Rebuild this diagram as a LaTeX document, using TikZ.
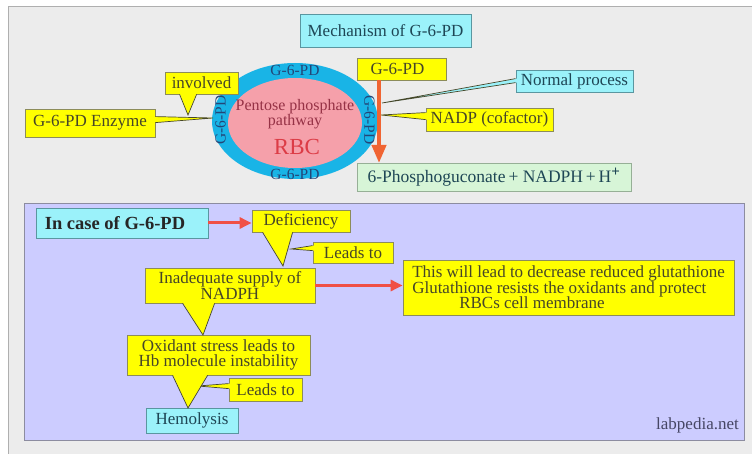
\documentclass[tikz,border=0pt]{standalone}
\usepackage{fontspec}
\setmainfont{Liberation Serif}
\usetikzlibrary{arrows.meta,calc}
\definecolor{bggray}{RGB}{236,236,236}
\definecolor{framegray}{RGB}{175,175,175}
\definecolor{lowfill}{RGB}{204,204,255}
\definecolor{lowline}{RGB}{140,140,160}
\definecolor{cyanfill}{RGB}{155,242,250}
\definecolor{cyanline}{RGB}{90,150,160}
\definecolor{yelfill}{RGB}{255,255,0}
\definecolor{yelline}{RGB}{140,140,90}
\definecolor{grnfill}{RGB}{215,245,215}
\definecolor{grnline}{RGB}{150,175,150}
\definecolor{ringblue}{RGB}{25,180,230}
\definecolor{cellpink}{RGB}{245,160,170}
\definecolor{ytext}{RGB}{70,70,40}
\definecolor{ctext}{RGB}{30,70,85}
\definecolor{ringtext}{RGB}{35,70,120}
\definecolor{pptext}{RGB}{150,50,70}
\definecolor{rbctext}{RGB}{220,60,70}
\definecolor{orangearr}{RGB}{240,100,50}
\definecolor{redarr}{RGB}{240,80,70}
\definecolor{wmark}{RGB}{70,70,100}
\newcommand\ptrdown[5]{%
  \fill[#5] ($(#1.south west)+(#2,-1.2)$) -- (#4) -- ($(#1.south west)+(#3,-1.2)$) -- cycle;
  \draw[ptrline] ($(#1.south west)+(#2,0)$) -- (#4) -- ($(#1.south west)+(#3,0)$);}
\newcommand\ptrleft[5]{%
  \fill[#5] ($(#1.north west)+(1.2,#2)$) -- (#4) -- ($(#1.north west)+(1.2,#3)$) -- cycle;
  \draw[ptrline] ($(#1.north west)+(0,#2)$) -- (#4) -- ($(#1.north west)+(0,#3)$);}
\newcommand\ptrright[5]{%
  \fill[#5] ($(#1.north east)+(-1.2,#2)$) -- (#4) -- ($(#1.north east)+(-1.2,#3)$) -- cycle;
  \draw[ptrline] ($(#1.north east)+(0,#2)$) -- (#4) -- ($(#1.north east)+(0,#3)$);}
\begin{document}
\begin{tikzpicture}[x=1pt,y=-1pt,
  txt/.style={font=\fontsize{17}{15.5}\selectfont},
  basebox/.style={txt, inner sep=0pt, line width=0.8pt, align=center},
  ybox/.style={basebox, draw=yelline, fill=yelfill, text=ytext},
  cbox/.style={basebox, draw=cyanline, fill=cyanfill, text=ctext},
  gbox/.style={basebox, draw=grnline, fill=grnfill, text=ctext},
  ptrline/.style={draw=ytext, line width=0.7pt, line join=miter},
  ringlbl/.style={font=\fontsize{15.5}{15.5}\selectfont, text=ringtext, inner sep=0pt},
  bigarrow/.style={draw=orangearr, line width=4pt, -{Triangle[width=14pt,length=18pt]}},
  redarrow/.style={draw=redarr, line width=3pt, -{Triangle[width=11pt,length=12pt]}}
]
\useasboundingbox (0,0) rectangle (752,454);
% background frame
\fill[white] (0,0) rectangle (752,454);
\draw[fill=bggray, draw=framegray, line width=1pt] (8,7) rectangle (770,470);

% ---------- upper part ----------
\node[cbox, minimum width=171pt, minimum height=33pt] (title) at (385.5,30.5) {Mechanism of G-6-PD};

% ring and cell
\fill[ringblue] (295,121) ellipse [x radius=83, y radius=58];
\fill[cellpink] (295,123) ellipse [x radius=67, y radius=45];
\node[ringlbl] (rtop) at (295,70.5) {G-6-PD};
\node[ringlbl] (rbot) at (295,174) {G-6-PD};
\node[ringlbl, rotate=90] (rleft) at (220.5,120) {G-6-PD};
\node[ringlbl, rotate=-90] (rright) at (369.5,120) {G-6-PD};
\node[txt, font=\fontsize{16}{14}\selectfont, text=pptext, align=center, inner sep=0pt] (ppp) at (295,114) {Pentose phosphate\\pathway};
\node[font=\fontsize{23}{23}\selectfont, text=rbctext, inner sep=0pt] (rbc) at (297,147) {RBC};

% callouts around ring
\coordinate (tEnz) at (213,118);
\coordinate (tInv) at (188,115);
\coordinate (tNorm) at (382,103);
\coordinate (tNadp) at (381,115);

\node[ybox, minimum width=130pt, minimum height=28pt] (enz) at (90,123) {G-6-PD Enzyme};
\ptrright{enz}{8}{14}{tEnz}{yelfill}
\node[ybox, minimum width=73pt, minimum height=22pt] (inv) at (201.5,83) {involved};
\ptrdown{inv}{15}{32}{tInv}{yelfill}

\node[ybox, minimum width=89pt, minimum height=22pt] (g6pd) at (401.5,69) {G-6-PD\hspace*{8pt}};
\node[gbox, minimum width=274pt, minimum height=28pt, font=\fontsize{17.5}{15.5}\selectfont] (prod) at (494,177) {6-Phosphoguconate\,+ NADPH\,+\,H\textsuperscript{\fontsize{15}{15}\selectfont\textbf{+}}};
\coordinate (oaS) at (379,80);
\coordinate (oaE) at (379,163);

\node[cbox, minimum width=117pt, minimum height=22pt] (norm) at (574.5,81) {Normal process};
\ptrleft{norm}{9}{13}{tNorm}{cyanfill}
\node[ybox, minimum width=127pt, minimum height=23pt] (nadp) at (489.5,119.5) {NADP (cofactor)};
\ptrleft{nadp}{5}{12}{tNadp}{yelfill}

\draw[bigarrow] (oaS) -- (oaE);

% ---------- lower part ----------
\draw[fill=lowfill, draw=lowline, line width=0.9pt] (24,203) rectangle (744,440);

\node[cbox, minimum width=172pt, minimum height=30pt, font=\fontsize{18.5}{15.5}\selectfont\bfseries, text=black!85] (incase) at (122,223) {In case of G-6-PD\hspace*{14pt}};

\coordinate (tDef) at (283,266);
\coordinate (tL1) at (291,249);
\coordinate (tInad) at (203,335);
\coordinate (tOx) at (188,408);
\coordinate (tL2) at (198,386);

\node[ybox, minimum width=98pt, minimum height=22pt] (defi) at (301,221) {Deficiency};
\node[ybox, minimum width=80pt, minimum height=21pt] (lead1) at (353,252.5) {Leads to};
\ptrleft{lead1}{4}{9}{tL1}{yelfill}
\node[ybox, minimum width=170pt, minimum height=35pt] (inad) at (230,285.5) {Inadequate supply of\\NADPH};
\ptrdown{defi}{11}{41}{tDef}{yelfill}
\node[ybox, minimum width=331pt, minimum height=55pt, align=left] (this) at (568.5,287.5) {This will lead to decrease reduced glutathione\\Glutathione resists the oxidants and protect\\\hspace*{47pt}RBCs cell membrane};
\node[ybox, minimum width=183pt, minimum height=40pt] (oxi) at (218.5,355) {Oxidant stress leads to\\Hb molecule instability};
\ptrdown{inad}{38}{70}{tInad}{yelfill}
\node[ybox, minimum width=73pt, minimum height=23pt] (lead2) at (265.5,389.5) {Leads to};
\ptrleft{lead2}{6}{11}{tL2}{yelfill}
\node[cbox, minimum width=92pt, minimum height=25pt] (hemo) at (192,420.5) {Hemolysis};
\ptrdown{oxi}{46}{81}{tOx}{yelfill}

\draw[redarrow] (incase.east) -- (incase.east -| defi.west);
\draw[redarrow] (inad.east) -- (inad.east -| this.west);

\node[txt, text=wmark, anchor=east, inner sep=0pt] (wm) at (739,425) {labpedia.net};
\end{tikzpicture}
\end{document}
